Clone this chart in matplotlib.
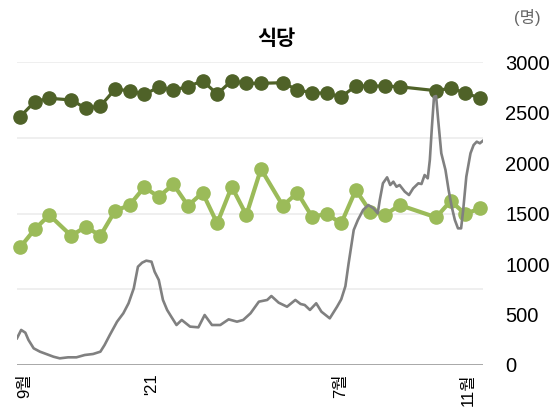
import pandas as pd
import matplotlib.pyplot as plt

plt.rcParams['font.family'] = ['Liberation Sans', 'Noto Sans CJK KR', 'DejaVu Sans']

# 조사 날짜 (격주)
survey_dates = ['2020-08-28', '2020-09-11', '2020-09-25', '2020-10-16', '2020-10-30',
                '2020-11-13', '2020-11-27', '2020-12-11', '2020-12-25', '2021-01-08',
                '2021-01-22', '2021-02-05', '2021-02-19', '2021-03-05', '2021-03-19',
                '2021-04-02', '2021-04-16', '2021-05-07', '2021-05-21', '2021-06-04',
                '2021-06-18', '2021-07-02', '2021-07-16', '2021-07-30', '2021-08-13',
                '2021-08-27', '2021-10-01', '2021-10-15', '2021-10-29', '2021-11-12']
dark_vals = [2458, 2607, 2641, 2624, 2542, 2564, 2730, 2716, 2680, 2750,
             2723, 2755, 2815, 2683, 2815, 2789, 2789, 2795, 2723, 2696,
             2690, 2656, 2762, 2762, 2762, 2755, 2716, 2740, 2696, 2641]
light_vals = [1165, 1344, 1485, 1280, 1369, 1280, 1525, 1584, 1759, 1666,
              1789, 1577, 1706, 1403, 1765, 1485, 1941, 1577, 1706, 1468,
              1495, 1403, 1733, 1518, 1485, 1584, 1462, 1624, 1495, 1551]

# 확진자 추이 (2020-08-25 기준 경과일)
gray_start = '2020-08-25'
gray_days = [0, 4, 8, 11, 16, 22, 28, 35, 41, 49, 57, 65, 73, 80, 84, 89, 96, 102, 107, 112,
             116, 120, 124, 129, 132, 136, 140, 144, 148, 153, 158, 166, 174, 180, 187, 195,
             203, 211, 217, 224, 232, 240, 244, 251, 259, 267, 272, 276, 281, 287, 292, 300,
             307, 311, 315, 318, 323, 327, 332, 337, 342, 346, 348, 351, 355, 358, 361, 364,
             367, 372, 376, 380, 385, 388, 391, 394, 396, 398, 400, 402, 404, 407, 411, 414,
             417, 420, 423, 426, 428, 431, 435, 438, 441, 444, 447]
gray_vals = [265, 347, 320, 248, 165, 132, 109, 82, 66, 76, 76, 99, 109, 132, 198, 297, 429, 512, 611, 759,
             973, 1013, 1033, 1023, 924, 842, 644, 545, 478, 396, 446, 380, 373, 495, 396, 396,
             452, 429, 446, 512, 627, 644, 683, 617, 577, 644, 604, 594, 545, 611, 528, 462,
             577, 650, 780, 1000, 1337, 1436, 1535, 1584, 1551, 1502, 1634, 1799, 1858, 1782, 1815, 1765,
             1782, 1716, 1683, 1749, 1799, 1792, 1881, 1848, 2030, 2359, 2656, 2663, 2426, 2096, 1931, 1733,
             1567, 1436, 1353, 1353, 1535, 1865, 2096, 2178, 2211, 2195, 2221]

ytick_vals = [0, 500, 1000, 1500, 2000, 2500, 3000]
grid_vals = [750, 1500, 2250, 3000]
xtick_dates = ['2020-09-01', '2021-01-01', '2021-07-01', '2021-11-01']
xtick_labels = ['9월', "'21", '7월', '11월']

dates = pd.to_datetime(survey_dates)
gray_x = pd.Timestamp(gray_start) + pd.to_timedelta(gray_days, unit='D')

fig = plt.figure(figsize=(5.6, 4.16), dpi=100)
ax = fig.add_axes([17 / 560, 1 - 365 / 416, 466 / 560, 303 / 416])

for g in grid_vals:
    ax.axhline(g, color='#ececec', lw=1.2, zorder=0)
ax.axhline(0, color='#a0a0a0', lw=2, zorder=1)

ax.plot(dates, dark_vals, color='#4f6228', lw=2.3, marker='o', ms=9.5, zorder=3, clip_on=False)
ax.plot(dates, light_vals, color='#9bbb59', lw=3, marker='o', ms=9.5, zorder=3, clip_on=False)
ax.plot(gray_x, gray_vals, color='#808080', lw=1.9, zorder=4)

ax.set_xlim(pd.Timestamp('2020-08-25'), pd.Timestamp('2021-11-15'))
ax.set_ylim(0, 3000)

ax.yaxis.tick_right()
ax.set_yticks(ytick_vals)
ax.set_yticklabels([str(v) for v in ytick_vals], fontsize=14.5)
ax.tick_params(axis='y', length=0, pad=16)

ax.set_xticks(pd.to_datetime(xtick_dates))
ax.set_xticklabels(xtick_labels, rotation=90, fontsize=12)
ax.tick_params(axis='x', length=0, pad=6)

for s in ax.spines.values():
    s.set_visible(False)

fig.text(276 / 560, 1 - 39 / 416, '식당', ha='center', va='center', fontsize=15, fontweight='bold')
fig.text(527 / 560, 1 - 18 / 416, '(명)', ha='center', va='center', fontsize=12, color='#666666')

fig.savefig('out.png', dpi=100)
